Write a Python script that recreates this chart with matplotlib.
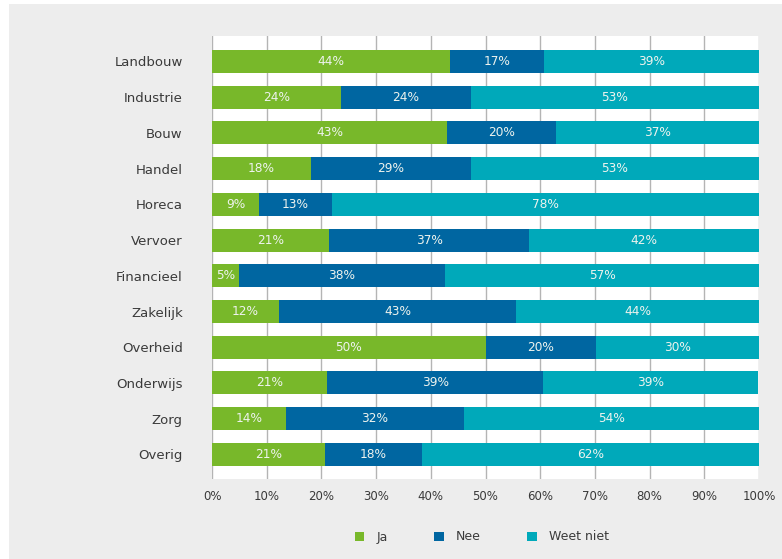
import matplotlib
matplotlib.use("Agg")
import matplotlib.pyplot as plt
from matplotlib.patches import Rectangle, Patch

categories = ["Landbouw", "Industrie", "Bouw", "Handel", "Horeca", "Vervoer",
              "Financieel", "Zakelijk", "Overheid", "Onderwijs", "Zorg", "Overig"]
ja = [43.5, 23.6, 43.0, 18.1, 8.6, 21.4, 4.9, 12.2, 50.0, 21.1, 13.6, 20.6]
nee = [17.2, 23.7, 19.9, 29.2, 13.3, 36.6, 37.7, 43.4, 20.2, 39.4, 32.4, 17.8]
weet_niet = [39.3, 52.7, 37.1, 52.7, 78.1, 42.0, 57.4, 44.4, 29.8, 39.4, 54.0, 61.6]
series_names = ["Ja", "Nee", "Weet niet"]
xticks = [0, 10, 20, 30, 40, 50, 60, 70, 80, 90, 100]

colors = ["#78b82a", "#0066a1", "#00a9ba"]
text_col = "#3a3a3a"

W, H = 782, 559
fig = plt.figure(figsize=(W / 100, H / 100), dpi=100, facecolor="white")
fig.patches.append(Rectangle((9 / W, 0), 1 - 9 / W, 1 - 4 / H, transform=fig.transFigure,
                             facecolor="#ededed", edgecolor="none", zorder=-10))

left, right, top, bottom = 212, 759, 36, 479
ax = fig.add_axes([left / W, 1 - bottom / H, (right - left) / W, (bottom - top) / H])
ax.set_facecolor("white")

y = list(range(len(categories)))
lefts = [0.0] * len(categories)
for vals, col, name in zip([ja, nee, weet_niet], colors, series_names):
    bars = ax.barh(y, vals, left=lefts, height=0.645, color=col, label=name, zorder=2)
    for b, v in zip(bars, vals):
        ax.text(b.get_x() + b.get_width() / 2, b.get_y() + b.get_height() / 2,
                f"{round(v):d}%", ha="center", va="center", color="#eef3ee",
                fontsize=8.7, zorder=3)
    lefts = [l + v for l, v in zip(lefts, vals)]

ax.set_xlim(0, 100)
ax.set_ylim(11.69, -0.714)
ax.set_xticks(xticks)
ax.set_xticklabels([f"{t}%" for t in xticks], color=text_col, fontsize=8.5)
ax.set_yticks(y)
ax.set_yticklabels(categories, color=text_col, fontsize=9.5)
ax.tick_params(axis="x", length=0, pad=8)
ax.tick_params(axis="y", length=0, pad=21)
ax.grid(axis="x", color="#b4b4b4", linewidth=1.0, zorder=1)
ax.set_axisbelow(True)
for s in ax.spines.values():
    s.set_visible(False)

handles = [Patch(facecolor=c, edgecolor="none") for c in colors]
leg = fig.legend(handles, series_names, loc="center", bbox_to_anchor=(482 / W, 1 - 537 / H),
                 ncol=3, frameon=False, fontsize=9, handlelength=0.75, handleheight=0.75,
                 handletextpad=1.0, columnspacing=3.7)
for t in leg.get_texts():
    t.set_color(text_col)

fig.savefig("out.png", dpi=100, facecolor=fig.get_facecolor())
